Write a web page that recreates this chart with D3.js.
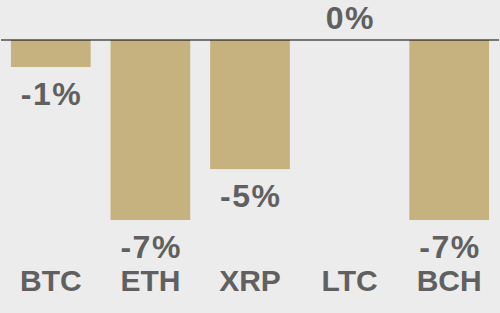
<!DOCTYPE html>
<html>
<head>
<meta charset="utf-8">
<script src="https://cdn.jsdelivr.net/npm/d3@7"></script>
<style>
  html, body { margin: 0; padding: 0; background: #ececec; }
  svg { display: block; }
</style>
</head>
<body>
<svg id="chart" width="500" height="313"></svg>
<script>
const categories = ["BTC", "ETH", "XRP", "LTC", "BCH"];
const values = [-1.05, -7.0, -5.02, 0, -7.0];

const W = 500, H = 313;
const svg = d3.select("#chart");
svg.append("rect").attr("width", W).attr("height", H).attr("fill", "#ececec");

const x = d3.scaleBand().domain(categories).range([1, 499]).paddingInner(0.2).paddingOuter(0.1);
const y = d3.scaleLinear().domain([0, -7]).range([40, 220]);

const data = categories.map((c, i) => ({ c, v: values[i] }));

svg.selectAll("rect.bar").data(data).enter().append("rect")
  .attr("class", "bar")
  .attr("x", d => x(d.c))
  .attr("width", x.bandwidth())
  .attr("y", d => Math.min(y(0), y(d.v)))
  .attr("height", d => Math.abs(y(d.v) - y(0)))
  .attr("fill", "#c6b27f");

svg.append("line")
  .attr("x1", 1).attr("x2", 499)
  .attr("y1", y(0)).attr("y2", y(0))
  .attr("stroke", "#000").attr("stroke-width", 1.2);

const font = "'Liberation Sans', Arial, sans-serif";

svg.selectAll("text.val").data(data).enter().append("text")
  .attr("class", "val")
  .attr("x", d => x(d.c) + x.bandwidth() / 2 + 0.75)
  .attr("y", d => d.v === 0 ? y(0) - 11 : y(d.v) + 38)
  .attr("text-anchor", "middle")
  .attr("font-family", font)
  .attr("font-weight", "bold")
  .attr("font-size", 32)
  .attr("letter-spacing", 1.5)
  .attr("fill", "#606060")
  .text(d => Math.round(d.v) + "%");

svg.selectAll("text.cat").data(data).enter().append("text")
  .attr("class", "cat")
  .attr("x", d => x(d.c) + x.bandwidth() / 2)
  .attr("y", 291)
  .attr("text-anchor", "middle")
  .attr("font-family", font)
  .attr("font-weight", "bold")
  .attr("font-size", 30)
  .attr("fill", "#606060")
  .text(d => d.c);
</script>
</body>
</html>
